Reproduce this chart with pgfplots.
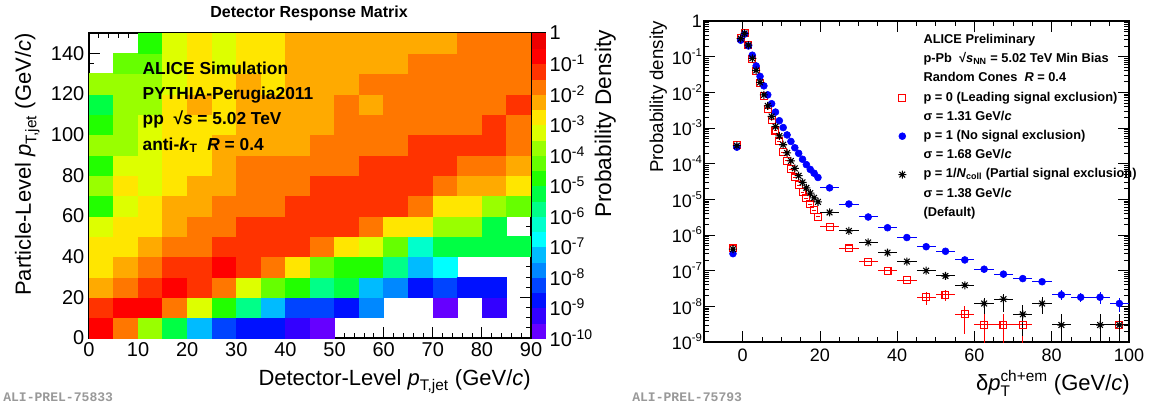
\documentclass[border=0pt]{standalone}
\usepackage{amsmath}
\usepackage{fontspec}
\setmainfont{Liberation Sans}
\setsansfont{Liberation Sans}
\setmonofont{Liberation Mono}
\usepackage{pgfplots}
\pgfplotsset{compat=1.18}
\usepackage{pgfplotstable}

\newcommand{\rsup}[1]{\raisebox{0.85ex}{\fontsize{8.5}{8.5}\selectfont #1}}

\pgfplotsset{colormap={rootpal}{rgb255=(102,0,255) rgb255=(51,0,255) rgb255=(0,17,255) rgb255=(0,68,255) rgb255=(0,136,255) rgb255=(0,187,255) rgb255=(0,255,255) rgb255=(0,255,204) rgb255=(0,255,136) rgb255=(0,255,68) rgb255=(34,255,0) rgb255=(102,255,0) rgb255=(153,255,0) rgb255=(221,255,0) rgb255=(255,230,0) rgb255=(255,170,0) rgb255=(255,119,0) rgb255=(255,51,0) rgb255=(255,0,0) rgb255=(238,0,0)}}

\pgfdeclareplotmark{cell}{\pgfpathrectangle{\pgfqpoint{-9.2083pt}{-7.625pt}}{\pgfqpoint{18.4167pt}{15.25pt}}\pgfusepathqfillstroke}
\pgfdeclareplotmark{cbcell}{\pgfpathrectangle{\pgfqpoint{-4.875pt}{-5.71875pt}}{\pgfqpoint{9.75pt}{11.4375pt}}\pgfusepathqfillstroke}
\pgfdeclareplotmark{rootstar}{%
 \pgfpathmoveto{\pgfqpoint{-\pgfplotmarksize}{0pt}}\pgfpathlineto{\pgfqpoint{\pgfplotmarksize}{0pt}}%
 \pgfpathmoveto{\pgfqpoint{0pt}{-\pgfplotmarksize}}\pgfpathlineto{\pgfqpoint{0pt}{\pgfplotmarksize}}%
 \pgfpathmoveto{\pgfqpoint{-.7071\pgfplotmarksize}{-.7071\pgfplotmarksize}}\pgfpathlineto{\pgfqpoint{.7071\pgfplotmarksize}{.7071\pgfplotmarksize}}%
 \pgfpathmoveto{\pgfqpoint{-.7071\pgfplotmarksize}{.7071\pgfplotmarksize}}\pgfpathlineto{\pgfqpoint{.7071\pgfplotmarksize}{-.7071\pgfplotmarksize}}%
 \pgfusepathqstroke}

\def\cbminor{}%
\foreach \d in {0,...,9}{\foreach \m in {0.60206,0.95424,1.20412,1.39794,1.55630,1.69020,1.80618,1.90849}{\pgfmathparse{2*\d+\m}\ifx\cbminor\empty\xdef\cbminor{\pgfmathresult}\else\xdef\cbminor{\cbminor,\pgfmathresult}\fi}}%
\def\logminor{}%
\foreach \e in {-9,...,-1}{\foreach \m in {2,...,9}{\ifx\logminor\empty\xdef\logminor{\m e\e}\else\xdef\logminor{\logminor,\m e\e}\fi}}%

\pgfplotstableread{
y c0 c1 c2 c3 c4 c5 c6 c7 c8 c9 c10 c11 c12 c13 c14 c15 c16 c17
5 18 16 12 9 5 3 2 2 1 0 -1 -1 -1 -1 -1 -1 -1 -1
15 17 18 18 16 13 10 8 5 3 3 2 4 -1 -1 0 -1 1 -1
25 15 16 17 18 17 16 13 11 10 8 9 5 4 2 3 2 2 -1
35 14 15 16 17 17 18 17 16 14 11 10 10 8 5 6 -1 -1 -1
45 14 14 15 16 16 17 17 17 17 16 14 13 11 7 9 9 9 9
55 13 14 14 15 16 16 17 17 17 17 17 16 14 14 12 12 9 -1
65 10 13 14 15 15 16 16 16 17 17 17 17 17 16 14 14 12 11
75 12 14 13 14 15 15 16 16 16 17 17 17 17 17 16 15 15 14
85 10 13 13 14 14 15 16 16 16 16 16 17 17 17 17 16 16 15
95 12 12 13 14 14 15 15 15 15 16 16 16 16 17 17 17 17 16
105 10 12 13 14 14 14 15 15 15 15 16 16 16 16 16 16 17 16
115 9 12 12 14 15 14 15 15 15 15 16 15 16 16 16 16 16 17
125 12 12 12 13 14 14 15 14 15 15 15 16 16 16 16 16 16 16
135 -1 11 11 13 14 13 14 14 15 15 15 15 15 16 16 16 16 16
145 -1 -1 10 13 14 13 14 14 15 15 15 15 15 15 15 16 16 16
}\heat

\pgfplotstableread{
x y ex eyp eym
-2.5 4.2e-7 0.5 0 0
-1.5 3.4e-4 0.5 0 0
-0.5 0.34 0.5 0 0
0.5 0.46 0.5 0 0
1.5 0.21 0.5 0 0
2.5 0.088 0.5 0 0
3.5 0.039 0.5 0 0
4.5 0.018 0.5 0 0
5.5 0.0080 0.5 0 0
6.5 0.0035 0.5 0 0
7.5 0.0017 0.5 0 0
8.5 0.00085 0.5 0 0
9.5 0.00042 0.5 0 0
10.5 0.00021 0.5 0 0
11.5 0.00012 0.5 0 0
12.5 6.9e-5 0.5 0 0
13.5 4.1e-5 0.5 0 0
14.5 2.5e-5 0.5 0 0
15.5 1.6e-5 0.5 0 0
16.5 1.07e-5 0.5 0 0
17.5 7.2e-6 0.5 0 0
18.5 5.0e-6 0.5 0 0
19.5 3.2e-6 0.5 0 0
22.5 1.7e-6 2.5 0 0
27.5 4.2e-7 2.5 0 0
32.5 1.8e-7 2.5 0 0
37.5 1.0e-7 2.5 0 0
42.5 5.4e-8 2.5 0 0
47.5 1.8e-8 2.5 0.8e-8 0.7e-8
52.5 2.1e-8 2.5 0.7e-8 0.7e-8
57.5 6.0e-9 2.5 4.0e-9 4.3e-9
62.5 3.0e-9 2.5 3.3e-9 2.9e-9
67.5 3.0e-9 2.5 3.3e-9 2.9e-9
72.5 3.0e-9 2.5 3.3e-9 2.9e-9
97.5 3.0e-9 2.5 3.3e-9 2.9e-9
}\redt

\pgfplotstableread{
x y ex eyp eym
-2.5 3.0e-7 0.5 0 0
-1.5 2.9e-4 0.5 0 0
-0.5 0.29 0.5 0 0
0.5 0.43 0.5 0 0
1.5 0.20 0.5 0 0
2.5 0.11 0.5 0 0
3.5 0.055 0.5 0 0
4.5 0.028 0.5 0 0
5.5 0.0152 0.5 0 0
6.5 0.0085 0.5 0 0
7.5 0.0048 0.5 0 0
8.5 0.0028 0.5 0 0
9.5 0.0016 0.5 0 0
10.5 0.00103 0.5 0 0
11.5 0.00064 0.5 0 0
12.5 0.00042 0.5 0 0
13.5 0.00028 0.5 0 0
14.5 0.000195 0.5 0 0
15.5 0.000133 0.5 0 0
16.5 9.4e-5 0.5 0 0
17.5 6.9e-5 0.5 0 0
18.5 5.4e-5 0.5 0 0
19.5 4.1e-5 0.5 0 0
22.5 2.1e-5 2.5 0 0
27.5 7.4e-6 2.5 0 0
32.5 3.2e-6 2.5 0 0
37.5 1.6e-6 2.5 0 0
42.5 8.5e-7 2.5 0 0
47.5 4.7e-7 2.5 0 0
52.5 3.5e-7 2.5 0 0
57.5 2.0e-7 2.5 0 0
62.5 1.1e-7 2.5 0 0
67.5 8.0e-8 2.5 0.6e-8 0.6e-8
72.5 6.0e-8 2.5 0.8e-8 0.8e-8
77.5 4.9e-8 2.5 0.8e-8 0.8e-8
82.5 2.1e-8 2.5 0.7e-8 0.6e-8
87.5 1.8e-8 2.5 0.6e-8 0.5e-8
92.5 1.8e-8 2.5 0.7e-8 0.6e-8
97.5 1.2e-8 2.5 0.5e-8 0.5e-8
}\bluet

\pgfplotstableread{
x y ex eyp eym
-2.5 4.0e-7 0.5 0 0
-1.5 3.2e-4 0.5 0 0
-0.5 0.32 0.5 0 0
0.5 0.45 0.5 0 0
1.5 0.21 0.5 0 0
2.5 0.090 0.5 0 0
3.5 0.041 0.5 0 0
4.5 0.019 0.5 0 0
5.5 0.0085 0.5 0 0
6.5 0.0042 0.5 0 0
7.5 0.0021 0.5 0 0
8.5 0.0011 0.5 0 0
9.5 0.0006 0.5 0 0
10.5 0.00034 0.5 0 0
11.5 0.0002 0.5 0 0
12.5 0.00012 0.5 0 0
13.5 7.4e-5 0.5 0 0
14.5 4.6e-5 0.5 0 0
15.5 3.0e-5 0.5 0 0
16.5 2.1e-5 0.5 0 0
17.5 1.5e-5 0.5 0 0
18.5 1.1e-5 0.5 0 0
19.5 8.5e-6 0.5 0 0
22.5 4.3e-6 2.5 0 0
27.5 1.3e-6 2.5 0 0
32.5 6.2e-7 2.5 0 0
37.5 3.2e-7 2.5 0 0
42.5 1.8e-7 2.5 0 0
47.5 1.0e-7 2.5 0 0
52.5 7.1e-8 2.5 0 0
57.5 3.9e-8 2.5 0.5e-8 0.5e-8
62.5 1.2e-8 2.5 0.5e-8 0.6e-8
67.5 1.6e-8 2.5 0.6e-8 0.9e-8
72.5 6.0e-9 2.5 5.0e-9 4.5e-9
77.5 1.2e-8 2.5 0.6e-8 0.6e-8
82.5 3.0e-9 2.5 3.3e-9 2.9e-9
92.5 3.0e-9 2.5 3.3e-9 2.9e-9
97.5 3.0e-9 2.5 3.3e-9 2.9e-9
}\start

\begin{document}
\begin{tikzpicture}
\useasboundingbox (0pt,0pt) rectangle (864.75pt,-303.75pt);

% ---------- heat map ----------
\begin{axis}[
  at={(66.75pt,-253.5pt)}, anchor=south west, scale only axis,
  width=331.5pt, height=228.75pt,
  xmin=0, xmax=90, ymin=0, ymax=150,
  xtick={0,10,...,90}, ytick={0,20,...,140},
  minor x tick num=4, minor y tick num=3,
  tick pos=both, tick align=inside,
  major tick length=8pt, minor tick length=4pt,
  tick style={black, line width=0.6pt},
  axis line style={line width=0.8pt},
  ticklabel style={font=\fontsize{15}{15}\selectfont},
  /pgf/number format/assume math mode=true,
  axis on top,
  colormap name=rootpal, point meta min=0, point meta max=19,
]
\pgfplotsinvokeforeach{0,...,17}{
  \addplot[scatter, only marks, mark=cell, point meta=explicit,
    scatter/use mapped color={draw=mapped color, fill=mapped color},
    every mark/.append style={line width=0.4pt},
    restrict expr to domain={\thisrow{c#1}}{-0.5:19.5}]
    table[x expr={2.5+5*#1}, y=y, meta=c#1]{\heat};
}
\end{axis}

% ---------- colour bar ----------
\begin{axis}[
  at={(399pt,-253.5pt)}, anchor=south west, scale only axis,
  width=9.75pt, height=228.75pt,
  xmin=0, xmax=1, ymin=0, ymax=20,
  xtick=\empty,
  ytick={0,2,...,20},
  yticklabels={10\textsuperscript{-10},10\textsuperscript{-9},10\textsuperscript{-8},10\textsuperscript{-7},10\textsuperscript{-6},10\textsuperscript{-5},10\textsuperscript{-4},10\textsuperscript{-3},10\textsuperscript{-2},10\textsuperscript{-1},1},
  minor ytick/.expanded={\cbminor},
  ytick pos=right, yticklabel pos=right, tick align=inside,
  major tick length=5pt, minor tick length=2.5pt,
  tick style={black, line width=0.5pt},
  axis line style={line width=0.8pt},
  ticklabel style={font=\fontsize{15}{15}\selectfont},
  axis on top,
  colormap name=rootpal, point meta min=0, point meta max=19,
]
\addplot[scatter, only marks, mark=cbcell, point meta=explicit,
  scatter/use mapped color={draw=mapped color, fill=mapped color},
  every mark/.append style={line width=0.3pt}]
  coordinates {(0.5,0.5)[0] (0.5,1.5)[1] (0.5,2.5)[2] (0.5,3.5)[3] (0.5,4.5)[4]
  (0.5,5.5)[5] (0.5,6.5)[6] (0.5,7.5)[7] (0.5,8.5)[8] (0.5,9.5)[9]
  (0.5,10.5)[10] (0.5,11.5)[11] (0.5,12.5)[12] (0.5,13.5)[13] (0.5,14.5)[14]
  (0.5,15.5)[15] (0.5,16.5)[16] (0.5,17.5)[17] (0.5,18.5)[18] (0.5,19.5)[19]};
\end{axis}

% ---------- delta pT ----------
\begin{axis}[
  at={(528pt,-256.5pt)}, anchor=south west, scale only axis,
  width=318.75pt, height=240.75pt,
  xmin=-10, xmax=100, ymode=log, ymin=1e-9, ymax=1,
  xtick={0,20,40,60,80,100}, minor x tick num=3,
  ytick={1e-9,1e-8,1e-7,1e-6,1e-5,1e-4,1e-3,1e-2,1e-1,1},
  yticklabels={10\rsup{-9},10\rsup{-8},10\rsup{-7},10\rsup{-6},10\rsup{-5},10\rsup{-4},10\rsup{-3},10\rsup{-2},10\rsup{-1},1},
  minor ytick/.expanded={\logminor},
  tick pos=both, tick align=inside,
  major tick length=8pt, minor tick length=4pt,
  tick style={black, line width=0.6pt},
  axis line style={line width=0.8pt},
  ticklabel style={font=\fontsize{13.5}{13.5}\selectfont},
  xticklabel style={yshift=-2pt},
  yticklabel style={xshift=2pt},
  /pgf/number format/assume math mode=true,
  legend cell align=left,
  legend style={at={(0.4534,0.9589)}, anchor=north west, draw=none, fill=none,
    inner sep=0pt, outer sep=0pt, row sep=5.4pt,
    font=\bfseries\fontsize{9.6}{10}\selectfont,
    nodes={inner xsep=0pt, inner ysep=0pt, text height=7pt, text depth=2pt}},
  legend image code/.code={\path (-4pt,0pt) (15.75pt,0pt); \draw[#1] plot coordinates {(0pt,0pt)};},
]
\addlegendimage{empty legend}\addlegendentry{ALICE Preliminary}
\addlegendimage{empty legend}\addlegendentry{p-Pb \ √\textit{s}\textsubscript{NN} = 5.02 TeV Min Bias}
\addlegendimage{empty legend}\addlegendentry{Random Cones \ \textit{R} = 0.4}
\addplot[only marks, red, mark=square, mark size=2.6pt, mark options={line width=0.8pt},
  error bars/.cd, x dir=both, x explicit, y dir=both, y explicit, error mark=none,
  error bar style={line width=0.75pt, red}]
  table[x=x, y=y, x error=ex, y error plus=eyp, y error minus=eym]{\redt};
\addlegendentry{p = 0 (Leading signal exclusion)}
\addlegendimage{empty legend}\addlegendentry{σ = 1.31 GeV/\textit{c}}
\addplot[only marks, blue, mark=*, mark size=2.6pt,
  error bars/.cd, x dir=both, x explicit, y dir=both, y explicit, error mark=none,
  error bar style={line width=0.75pt, blue}]
  table[x=x, y=y, x error=ex, y error plus=eyp, y error minus=eym]{\bluet};
\addlegendentry{p = 1 (No signal exclusion)}
\addlegendimage{empty legend}\addlegendentry{σ = 1.68 GeV/\textit{c}}
\addplot[only marks, black, mark=rootstar, mark size=3pt, mark options={line width=0.8pt},
  error bars/.cd, x dir=both, x explicit, y dir=both, y explicit, error mark=none,
  error bar style={line width=0.75pt, black}]
  table[x=x, y=y, x error=ex, y error plus=eyp, y error minus=eym]{\start};
\addlegendentry{p = 1/\textit{N}\textsubscript{coll} (Partial signal exclusion)}
\addlegendimage{empty legend}\addlegendentry{σ = 1.38 GeV/\textit{c}}
\addlegendimage{empty legend}\addlegendentry{(Default)}
\end{axis}

% ---------- texts ----------
\begin{scope}[x=0.75pt,y=-0.75pt]
\node[font=\bfseries\fontsize{12}{14}\selectfont] at (309,13) {Detector Response Matrix};
\node[anchor=base west, font=\bfseries\fontsize{13}{15}\selectfont] at (138,74) {ALICE Simulation};
\node[anchor=base west, font=\bfseries\fontsize{13}{15}\selectfont] at (138,99) {PYTHIA-Perugia2011};
\node[anchor=base west, font=\bfseries\fontsize{13}{15}\selectfont] at (138,124.5) {pp \ √\textit{s} = 5.02 TeV};
\node[anchor=base west, font=\bfseries\fontsize{13}{15}\selectfont] at (138,150) {anti-\textit{k}\textsubscript{T} \ \textit{R} = 0.4};
\node[anchor=base east, inner sep=0pt, font=\fontsize{16.5}{18}\selectfont] at (531,385) {Detector-Level $\textit{p}_{\text{T,jet}}$ (GeV/\textit{c})};
\node[rotate=90, anchor=base east, inner sep=0pt, font=\fontsize{16.5}{18}\selectfont] at (31,33) {Particle-Level $\textit{p}_{\text{T,jet}}$ (GeV/\textit{c})};
\node[rotate=90, anchor=base east, inner sep=0pt, font=\fontsize{17}{18}\selectfont] at (611,30) {Probability Density};
\node[rotate=90, anchor=base east, inner sep=0pt, font=\fontsize{14}{16}\selectfont] at (663,21) {Probability density};
\node[anchor=base east, inner sep=0pt, font=\fontsize{16.5}{18}\selectfont] at (1130,390) {δ$\textit{p}_{\text{T}}^{\text{ch+em}}$ (GeV/\textit{c})};
\node[anchor=base west, inner sep=0pt, text=black!40, font=\ttfamily\bfseries\fontsize{9.8}{10}\selectfont] at (3,401) {ALI-PREL-75833};
\node[anchor=base west, inner sep=0pt, text=black!40, font=\ttfamily\bfseries\fontsize{9.8}{10}\selectfont] at (632,401) {ALI-PREL-75793};
\end{scope}
\end{tikzpicture}
\end{document}
